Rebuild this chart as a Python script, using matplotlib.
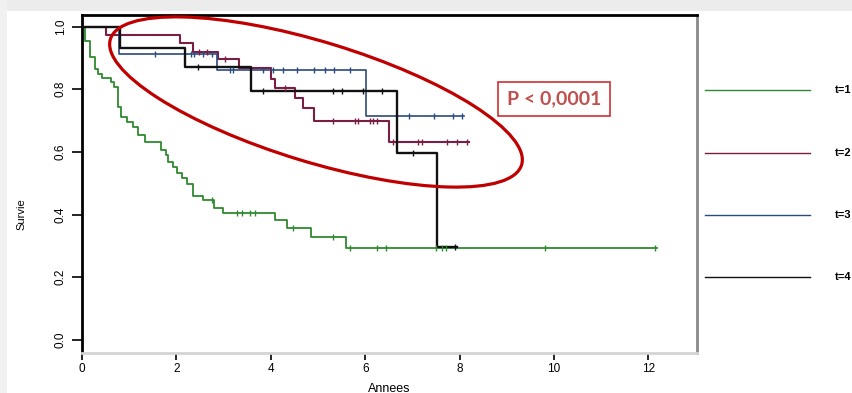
import numpy as np
import matplotlib
matplotlib.use("Agg")
import matplotlib.pyplot as plt
from matplotlib.patches import Ellipse, Rectangle
from matplotlib.lines import Line2D
from matplotlib.transforms import IdentityTransform

# ---------------- data ----------------
green_t = [0, 0.07, 0.18, 0.27, 0.34, 0.42, 0.62, 0.68, 0.76, 0.83, 0.96, 1.08, 1.19, 1.33,
           1.68, 1.77, 1.82, 1.92, 2.01, 2.11, 2.22, 2.35, 2.57, 2.80, 2.99, 4.09, 4.34,
           4.85, 5.60, 12.18]
green_s = [1.0, 0.953, 0.904, 0.866, 0.850, 0.835, 0.824, 0.808, 0.744, 0.712, 0.696, 0.678,
           0.654, 0.633, 0.606, 0.590, 0.569, 0.553, 0.534, 0.516, 0.498, 0.459, 0.447,
           0.421, 0.406, 0.383, 0.356, 0.328, 0.292, 0.292]
green_c = [2.75, 3.28, 3.38, 3.56, 3.67, 4.48, 5.32, 5.68, 6.26, 6.44, 7.51, 7.62, 7.71,
           9.82, 12.14]

maroon_t = [0, 0.51, 2.08, 2.35, 2.88, 3.33, 4.00, 4.09, 4.51, 4.68, 4.92, 6.50, 8.20]
maroon_s = [1.0, 0.973, 0.947, 0.919, 0.896, 0.868, 0.833, 0.804, 0.772, 0.740, 0.699,
            0.632, 0.632]
maroon_c = [2.48, 2.64, 3.03, 4.30, 5.32, 5.79, 5.85, 6.11, 6.17, 6.25, 6.59, 7.12, 7.21,
            7.74, 7.95, 8.15]

blue_t = [0, 0.78, 2.86, 6.02, 8.10]
blue_s = [1.0, 0.912, 0.861, 0.714, 0.714]
blue_c = [1.55, 2.31, 2.37, 2.56, 2.75, 3.14, 3.20, 3.83, 4.05, 4.26, 4.55, 4.92, 5.15,
          5.34, 5.68, 6.93, 7.46, 7.86, 8.05]

black_t = [0, 0.81, 2.18, 3.58, 6.67, 7.52, 7.95]
black_s = [1.0, 0.931, 0.871, 0.794, 0.596, 0.297, 0.297]
black_c = [2.46, 3.83, 5.32, 5.51, 5.95, 6.36, 7.01, 7.90]

legend_labels = ["t=1", "t=2", "t=3", "t=4"]
x_ticks = [0, 2, 4, 6, 8, 10, 12]
y_ticks = [0.0, 0.2, 0.4, 0.6, 0.8, 1.0]
p_text = "P < 0,0001"

series = [
    (green_t, green_s, green_c, "#2f8a2f", 1.3),
    (maroon_t, maroon_s, maroon_c, "#7a1e45", 1.5),
    (blue_t, blue_s, blue_c, "#2b4a7e", 1.2),
    (black_t, black_s, black_c, "#111111", 1.7),
]

# ---------------- figure ----------------
plt.rcParams['font.family'] = ['Liberation Sans', 'DejaVu Sans']
W, H = 852, 393
fig = plt.figure(figsize=(W / 100, H / 100), dpi=100)
fig.patch.set_facecolor("white")

# light shadow bands (screenshot frame)
fig.add_artist(Rectangle((0, 1 - 11 / H), 1, 11 / H, transform=fig.transFigure,
                         facecolor="#ececec", edgecolor="none", zorder=-5))
fig.add_artist(Rectangle((0, 0), 7 / W, 1, transform=fig.transFigure,
                         facecolor="#f1f1f1", edgecolor="none", zorder=-5))

ax = fig.add_axes([82 / W, 1 - 353 / H, (697 - 82) / W, (353 - 15) / H])
ax.set_xlim(0, 13.03)
ax.set_ylim(-0.0415, 1.0367)

for t, s, c, col, lw in series:
    ax.step(t, s, where="post", color=col, lw=lw, zorder=3)
    t_arr = np.asarray(t)
    s_arr = np.asarray(s)
    idx = np.searchsorted(t_arr, np.asarray(c), side="right") - 1
    ax.plot(c, s_arr[idx], linestyle="none", marker="|", markersize=5,
            markeredgewidth=1.0, color=col, zorder=4)

# spines
ax.spines["left"].set_linewidth(2.0)
ax.spines["left"].set_color("black")
ax.spines["top"].set_linewidth(2.0)
ax.spines["top"].set_color("black")
ax.spines["right"].set_linewidth(2.0)
ax.spines["right"].set_color("#8a8a8a")
ax.spines["bottom"].set_linewidth(2.0)
ax.spines["bottom"].set_color("#d4d4d4")

ax.set_xticks(x_ticks)
ax.set_xticklabels([str(v) for v in x_ticks])
ax.set_yticks(y_ticks)
ax.set_yticklabels([f"{v:.1f}" for v in y_ticks], rotation=90, va="center")
ax.tick_params(axis="x", length=5, width=1.2, color="black", labelsize=8.5, pad=2)
ax.tick_params(axis="y", length=7, width=1.2, color="black", labelsize=8.5, pad=4)

ax.set_ylabel("Survie", fontsize=8)
ax.yaxis.set_label_coords(-0.090, 0.41)
ax.set_xlabel("Annees", fontsize=9)
ax.xaxis.set_label_coords(0.5, -0.088)

# P-value box
fig.text(554 / W, 1 - 99 / H, p_text, fontsize=14, fontweight="bold",
         family=["Lato", "DejaVu Sans"], color="#c0504d", ha="center", va="center",
         bbox=dict(boxstyle="square,pad=0.45", facecolor="white", edgecolor="#d03030",
                   linewidth=1.2))

# red ellipse (annotation drawn in pixel space)
ell = Ellipse((316, H - 102), width=430, height=120, angle=-17.0,
              transform=IdentityTransform(), fill=False, edgecolor="#c00000",
              linewidth=2.3, zorder=10)
fig.add_artist(ell)

# legend outside on the right (truncated by figure edge)
leg_y = [90, 153, 215, 277]
for (t, s, c, col, lw), lab, yy in zip(series, legend_labels, leg_y):
    yf = 1 - yy / H
    fig.add_artist(Line2D([705 / W, 810 / W], [yf, yf], transform=fig.transFigure,
                          color=col, lw=1.0))
    fig.text(835 / W, yf, lab, fontsize=8, fontweight="bold", ha="left", va="center")

fig.savefig("out.png", dpi=100)
